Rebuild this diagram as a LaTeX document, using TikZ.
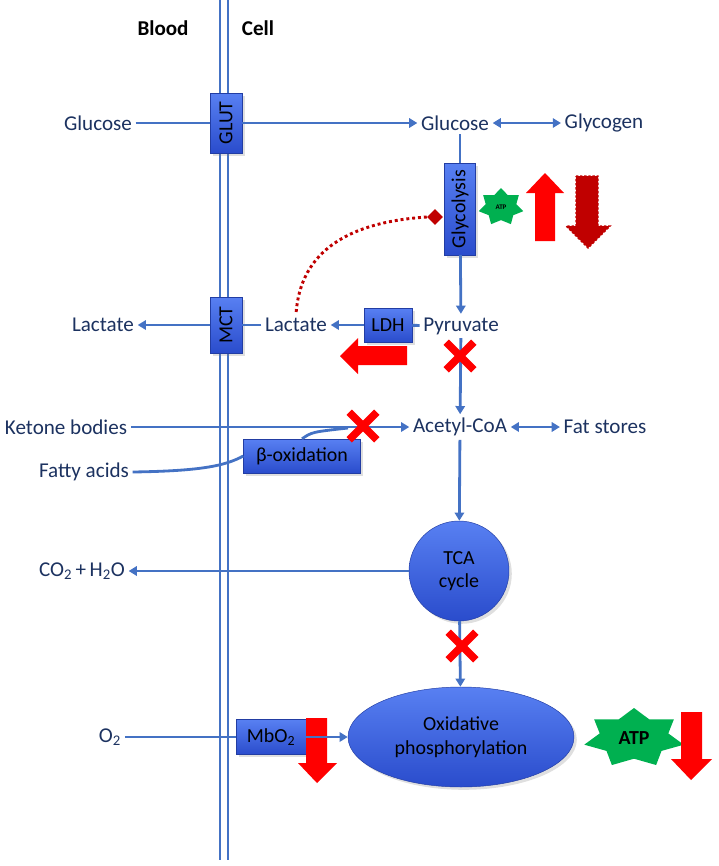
\documentclass[tikz,border=0pt]{standalone}
\usepackage{fontspec}
\setmainfont{Carlito}
\usetikzlibrary{arrows.meta,shapes.geometric,shapes.misc,shadows}

\definecolor{pathblue}{RGB}{68,114,196}
\definecolor{txtnavy}{RGB}{28,50,96}
\definecolor{boxtop}{RGB}{88,128,242}
\definecolor{boxbot}{RGB}{42,76,204}
\definecolor{darkred}{RGB}{192,0,0}
\definecolor{atpgreen}{RGB}{0,176,80}

\tikzset{
  lbl/.style={text=txtnavy, font=\fontsize{18}{21}\selectfont, inner sep=3pt},
  enzyme/.style={draw=boxbot!80!black, line width=0.4pt, top color=boxtop, bottom color=boxbot,
                 font=\fontsize{17}{20}\selectfont, inner sep=1pt, drop shadow={opacity=0.25}},
  link/.style={pathblue, line width=2.4pt},
  flow/.style={link, -{Triangle[length=7pt,width=8pt]}},
  twoway/.style={link, {Triangle[length=7pt,width=8pt]}-{Triangle[length=7pt,width=8pt]}},
  block/.style={cross out, draw=red, line width=6.5pt, minimum size=0.6cm, inner sep=0pt},
  atpstar/.style={star, star points=7, star point ratio=1.45, fill=atpgreen, draw=none, inner sep=0pt},
}

\begin{document}
\begin{tikzpicture}[x=0.03cm, y=-0.03cm]
  \useasboundingbox (0,0) rectangle (718,866);

  % Membrane
  \draw [link, line width=1.6pt] (220,0) -- (220,860);
  \draw [link, line width=1.6pt] (228,0) -- (228,860);
  \node (blood) at (163,28) [font=\fontsize{18}{21}\selectfont\bfseries] {Blood};
  \node (cell) at (258,28) [font=\fontsize{18}{21}\selectfont\bfseries] {Cell};

  % Transporters and enzymes
  \node (glut) at (226,123) [enzyme, rotate=90, minimum width=1.8cm, minimum height=0.96cm] {GLUT};
  \node (mct) at (226,325) [enzyme, rotate=90, minimum width=1.68cm, minimum height=0.96cm] {MCT};
  \node (glycolysis) at (460,209) [enzyme, rotate=90, minimum width=2.76cm, minimum height=0.93cm] {Glycolysis};
  \node (ldh) at (388,325) [enzyme, minimum width=1.44cm, minimum height=1.02cm] {LDH};
  \node (betaox) at (302,456) [enzyme, minimum width=3.51cm, minimum height=1.02cm] {β-oxidation};
  \node (mbo) at (271,737) [enzyme, minimum width=2.1cm, minimum height=1.05cm] {MbO\textsubscript{2}};
  \node (tca) at (459,571) [enzyme, circle, minimum size=3cm, align=center] {TCA\\cycle};
  \node (oxphos) at (461,737) [enzyme, ellipse, minimum width=6.78cm, minimum height=3cm, align=center] {Oxidative\\phosphorylation};

  % Metabolites
  \node (glc_blood) at (98,123) [lbl] {Glucose};
  \node (glc_cell) at (455,123) [lbl] {Glucose};
  \node (glycogen) at (604,123) [lbl] {Glycogen};
  \node (lac_blood) at (103,325) [lbl] {Lactate};
  \node (lac_cell) at (296,325) [lbl] {Lactate};
  \node (pyruvate) at (461,326) [lbl] {Pyruvate};
  \node (ketone) at (66,427) [lbl] {Ketone bodies};
  \node (acetyl) at (460,427) [lbl] {Acetyl-CoA};
  \node (fat) at (605,427) [lbl] {Fat stores};
  \node (fatty) at (84,472) [lbl] {Fatty acids};
  \node (co2) at (82,571) [lbl] {CO\textsubscript{2}\,+\,H\textsubscript{2}O};
  \node (o2) at (110,737) [lbl] {O\textsubscript{2}};
  \coordinate (join) at (348,428);

  % ATP and regulation marks
  \node (atp_small) at (501,207) [atpstar, minimum size=1.14cm, xscale=1.2] {};
  \node at (atp_small) [font=\fontsize{6}{7}\selectfont\bfseries] {ATP};
  \node (atp_big) at (634,738) [atpstar, minimum size=1.8cm, xscale=1.7] {};
  \node at (atp_big) [font=\fontsize{17}{20}\selectfont\bfseries] {ATP};
  \fill [red] (535,241) -- (535,193) -- (526,193) -- (545,173) -- (564,193) -- (555,193) -- (555,241) -- cycle;
  \filldraw [fill=darkred, draw=darkred, line width=1.2pt, dash pattern=on 2pt off 1.5pt]
        (576,176) -- (598,176) -- (598,226) -- (610,226) -- (588,248) -- (566,226) -- (576,226) -- cycle;
  \fill [red] (407,346) -- (358,346) -- (358,338) -- (340,356) -- (358,374) -- (358,365) -- (407,365) -- cycle;
  \fill [red] (306,718) -- (327,718) -- (327,763) -- (337,763) -- (317,783) -- (298,763) -- (306,763) -- cycle;
  \fill [red] (681,712) -- (702,712) -- (702,759) -- (712,759) -- (691,780) -- (671,759) -- (681,759) -- cycle;
  \node (inhib) at (435,217) [diamond, fill=darkred, inner sep=0pt, minimum size=0.48cm] {};

  % Arrows
  \draw [link] (glc_blood) -- (glut);
  \draw [flow] (glut) -- (glc_cell);
  \draw [twoway] (glc_cell) -- (glycogen);
  \draw [link] (glycolysis |- glc_cell.south) -- (glycolysis);
  \draw [flow] (glycolysis) -- (pyruvate);
  \draw [link] (pyruvate) -- (ldh);
  \draw [flow] (ldh) -- (lac_cell);
  \draw [link] (lac_cell) -- (mct);
  \draw [flow] (mct) -- (lac_blood);
  \draw [flow] (pyruvate) -- (acetyl);
  \draw [flow] (ketone) -- (acetyl);
  \draw [twoway] (acetyl) -- (fat);
  \draw [link] (fatty.east) .. controls (200,471) and (225,466) .. (betaox.west);
  \draw [link] (betaox.north) .. controls (312,432) .. (join);
  \draw [flow] (acetyl) -- (tca);
  \draw [flow] (tca) -- (co2);
  \draw [flow] (tca) -- (oxphos);
  \draw [link] (o2) -- (mbo);
  \draw [flow] (mbo) -- (oxphos);
  \draw [darkred, line width=2.5pt, dash pattern=on 2.5pt off 2.5pt] (inhib.west) .. controls (350,222) and (300,250) .. (lac_cell.north);

  % Blocked steps
  \node (x_pdh) at (460,356) [block] {};
  \node (x_ket) at (363,426) [block] {};
  \node (x_tca) at (462,646) [block] {};
\end{tikzpicture}
\end{document}
